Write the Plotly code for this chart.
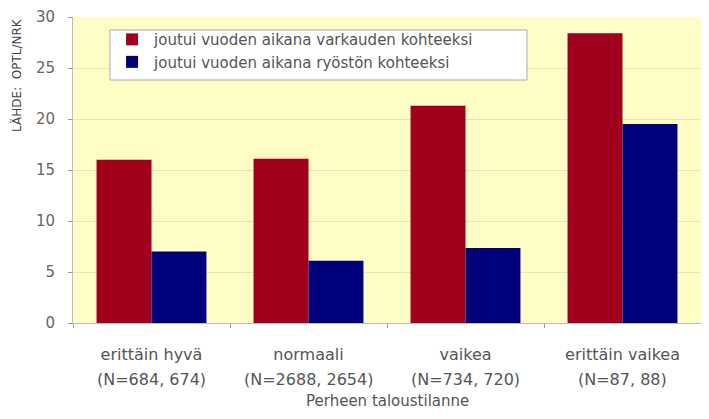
import plotly.graph_objects as go

category_names = ["erittäin hyvä", "normaali", "vaikea", "erittäin vaikea"]
sample_sizes = ["(N=684, 674)", "(N=2688, 2654)", "(N=734, 720)", "(N=87, 88)"]
theft = [16.0, 16.1, 21.3, 28.4]
robbery = [7.0, 6.1, 7.35, 19.5]
series_names = ["joutui vuoden aikana varkauden kohteeksi",
                "joutui vuoden aikana ryöstön kohteeksi"]
y_ticks = [0, 5, 10, 15, 20, 25, 30]
x_title = "Perheen taloustilanne"
source = "LÄHDE:  OPTL/NRK"

FONT = "DejaVu Sans, sans-serif"
TXT = "#555555"

# The page body has an 8px margin; the figure is sized so no scrollbars appear.
fig = go.Figure()
fig.add_bar(x=category_names, y=theft, name=series_names[0],
            marker=dict(color="#A0001E", line=dict(width=0)))
fig.add_bar(x=category_names, y=robbery, name=series_names[1],
            marker=dict(color="#00007A", line=dict(width=0)))

PLOT_H = 403 - 9 - 88
PLOT_W = 693 - 65

fig.update_layout(
    width=693, height=403,
    margin=dict(l=65, r=0, t=9, b=88),
    paper_bgcolor="white",
    plot_bgcolor="#FFFDC6",
    barmode="group", bargap=0.3, bargroupgap=0,
    font=dict(family=FONT, size=16, color=TXT),
    showlegend=True,
    legend=dict(x=0.059, y=0.98, xanchor="left", yanchor="top",
                bgcolor="rgba(0,0,0,0)", borderwidth=0,
                font=dict(size=15, color=TXT, family=FONT), tracegroupgap=0,
                itemwidth=34),
    xaxis=dict(automargin=False,
               showline=True, linecolor="#BBBBBB", ticks="outside",
               tickson="boundaries", ticklen=4, tickcolor="#999999",
               ticklabelstandoff=17, tickfont=dict(size=16, color=TXT),
               range=[-0.5, 3.5]),
    yaxis=dict(range=[0, 30], tickvals=y_ticks, showgrid=True, automargin=False,
               gridcolor="#ECE4B8", showline=True, linecolor="#BBBBBB",
               ticks="outside", ticklen=4, tickcolor="#999999",
               ticklabelstandoff=10,
               tickfont=dict(size=15, color="#666666"), zeroline=False),
)

# legend frame
fig.add_shape(type="rect", xref="paper", yref="paper", layer="above",
              x0=37 / PLOT_W, x1=454 / PLOT_W, y0=243 / PLOT_H, y1=293 / PLOT_H,
              fillcolor="white", line=dict(color="#AAAAAA", width=1))

for name, n in zip(category_names, sample_sizes):
    fig.add_annotation(text=n, x=name, xref="x", yref="paper", y=-56 / PLOT_H,
                       showarrow=False, xanchor="center", yanchor="middle",
                       font=dict(size=16, color=TXT, family=FONT))

fig.add_annotation(text=x_title, xref="paper", yref="paper", x=0.5, y=-78 / PLOT_H,
                   showarrow=False, xanchor="center", yanchor="middle",
                   font=dict(size=15, color=TXT, family=FONT))

fig.add_annotation(text=source, xref="paper", yref="paper",
                   x=-0.091, y=0.81, textangle=-90, showarrow=False,
                   font=dict(size=12, color="#444444", family=FONT),
                   xanchor="center", yanchor="middle")

fig.write_html("out.html")
